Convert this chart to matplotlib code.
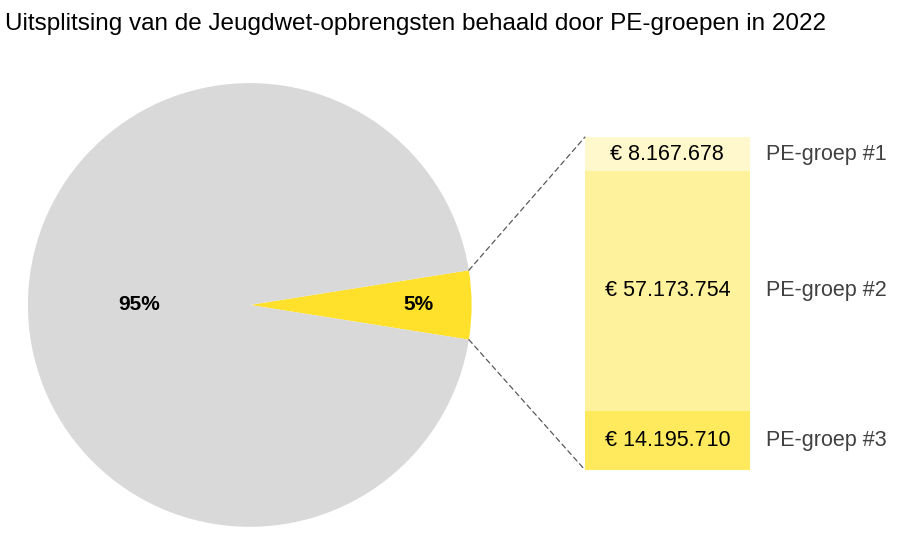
import matplotlib
matplotlib.use("Agg")
import matplotlib.pyplot as plt
from matplotlib.patches import ConnectionPatch
import numpy as np

plt.rcParams['font.family'] = ['Liberation Sans', 'DejaVu Sans']

pie_labels = ["5%", "95%"]
pie_values = [5, 95]
pie_colors = ["#ffe12b", "#d9d9d9"]
groups = ["PE-groep #1", "PE-groep #2", "PE-groep #3"]
group_values = [8167678, 57173754, 14195710]
group_texts = ["€ 8.167.678", "€ 57.173.754", "€ 14.195.710"]
group_colors = ["#fff8cc", "#fff29c", "#ffea5e"]

fig = plt.figure(figsize=(9, 5.37), dpi=100)
fig.text(0.006, 0.955, "Uitsplitsing van de Jeugdwet-opbrengsten behaald door PE-groepen in 2022",
         fontsize=17.5, va="center", ha="left", color="black")

ax = fig.add_axes([0.031, 0.0186, 0.493, 0.827])
half = pie_values[0] / 100 * 180
ax.pie(pie_values, colors=pie_colors, startangle=-half, counterclock=True,
       wedgeprops=dict(linewidth=0))
ax.set_xlim(-1, 1)
ax.set_ylim(-1, 1)
ax.set_aspect("equal")
ax.text(0.76, 0, pie_labels[0], ha="center", va="center", fontsize=15, fontweight="bold")
ax.text(-0.5, 0, pie_labels[1], ha="center", va="center", fontsize=15, fontweight="bold")

bx = fig.add_axes([0.65, 0.1248, 0.183, 0.620])
total = sum(group_values)
top = total
for g, v, t, c in zip(groups, group_values, group_texts, group_colors):
    bx.bar(0, v, bottom=top - v, width=1, color=c, linewidth=0)
    bx.text(0, top - v / 2, t, ha="center", va="center", fontsize=15.5, color="black")
    bx.text(0.6, top - v / 2, g, ha="left", va="center", fontsize=15.5, color="#404040")
    top -= v
bx.set_xlim(-0.5, 0.5)
bx.set_ylim(0, total)
bx.axis("off")

ang = np.deg2rad(half)
for sgn, yb in [(1, total), (-1, 0)]:
    cp = ConnectionPatch(xyA=(np.cos(ang), sgn * np.sin(ang)), coordsA=ax.transData,
                         xyB=(-0.5, yb), coordsB=bx.transData,
                         color="#595959", linestyle=(0, (4, 3)), linewidth=0.9)
    fig.add_artist(cp)

fig.savefig("out.png", dpi=100)
